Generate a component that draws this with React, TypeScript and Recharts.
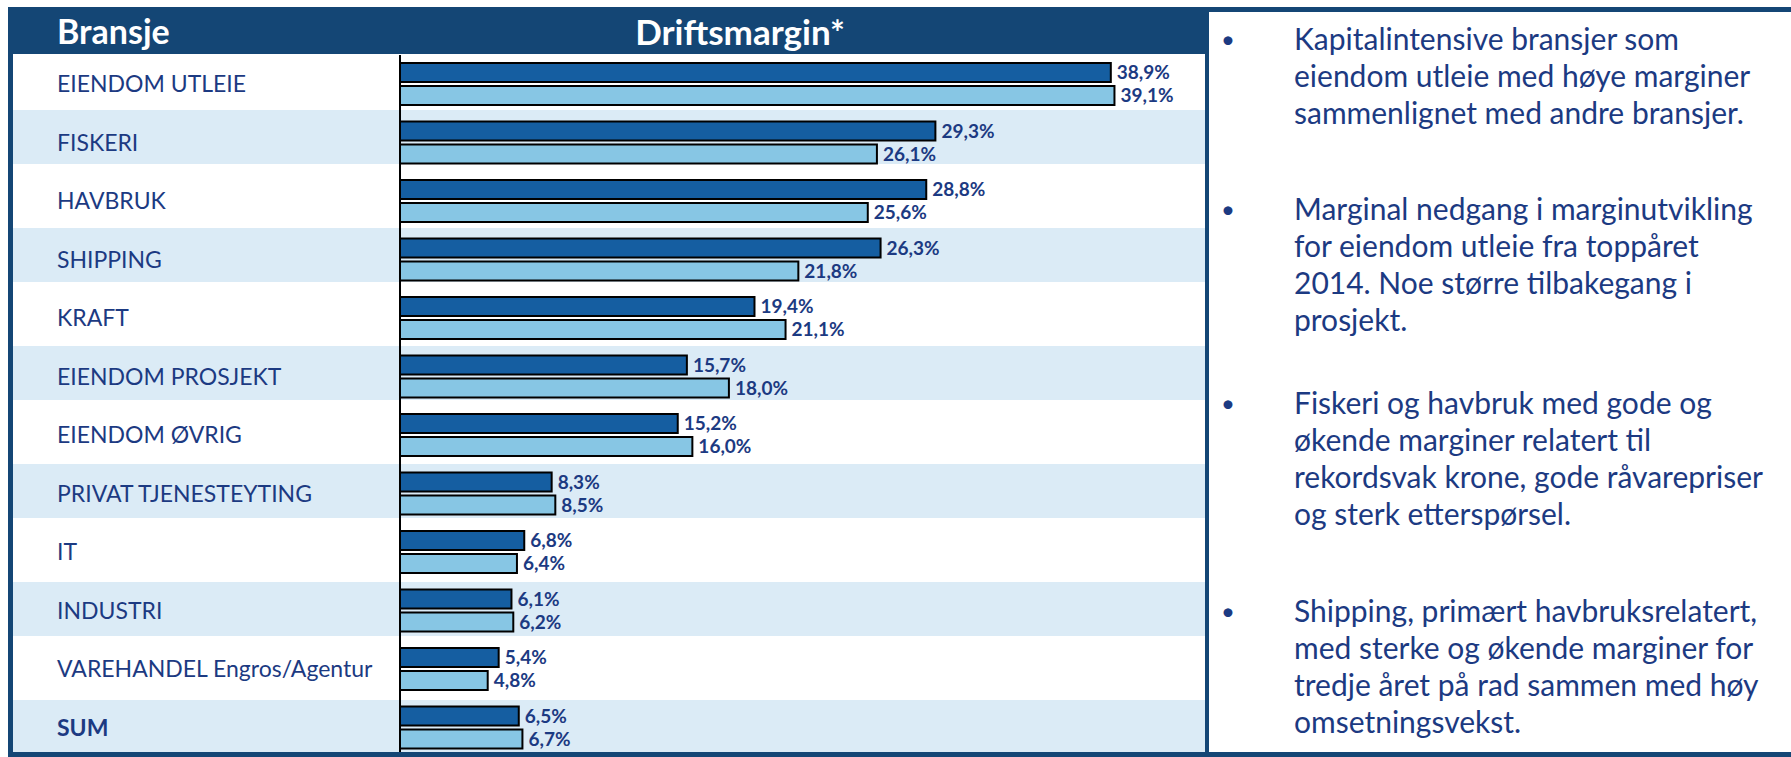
import { BarChart, Bar, XAxis, YAxis, LabelList } from 'recharts'

const CATEGORIES = [
  'EIENDOM UTLEIE',
  'FISKERI',
  'HAVBRUK',
  'SHIPPING',
  'KRAFT',
  'EIENDOM PROSJEKT',
  'EIENDOM ØVRIG',
  'PRIVAT TJENESTEYTING',
  'IT',
  'INDUSTRI',
  'VAREHANDEL Engros/Agentur',
  'SUM',
]
// dark (upper) bar and light (lower) bar per industry, driftsmargin in %
const MARGIN_DARK = [38.9, 29.3, 28.8, 26.3, 19.4, 15.7, 15.2, 8.3, 6.8, 6.1, 5.4, 6.5]
const MARGIN_LIGHT = [39.1, 26.1, 25.6, 21.8, 21.1, 18.0, 16.0, 8.5, 6.4, 6.2, 4.8, 6.7]

// commentary, one entry per bullet, broken as in the slide
const BULLETS = [
  ['Kapitalintensive bransjer som', 'eiendom utleie med høye marginer', 'sammenlignet med andre bransjer.'],
  ['Marginal nedgang i marginutvikling', 'for eiendom utleie fra toppåret', '2014. Noe større tilbakegang i', 'prosjekt.'],
  ['Fiskeri og havbruk med gode og', 'økende marginer relatert til', 'rekordsvak krone, gode råvarepriser', 'og sterk etterspørsel.'],
  ['Shipping, primært havbruksrelatert,', 'med sterke og økende marginer for', 'tredje året på rad sammen med høy', 'omsetningsvekst.'],
]
const PARA_GAP = [0, 59, 46, 60]

const NAVY = '#144675'
const TEXT = '#1c3a82'
const DARK_BAR = '#155ea1'
const LIGHT_BAR = '#87c6e4'
const STRIPE = '#dbebf6'
const FONT = 'Lato, "Open Sans", sans-serif'

const data = CATEGORIES.map((name, i) => ({
  name,
  dark: MARGIN_DARK[i],
  light: MARGIN_LIGHT[i],
}))

const fmt = (v: any) => `${Number(v).toFixed(1).replace('.', ',')}%`

function CategoryTick({ y, payload }: any) {
  const isSum = payload.value === 'SUM'
  return (
    <text
      x={44}
      y={y}
      dy="0.35em"
      fill={TEXT}
      fontSize={23}
      fontFamily={FONT}
      fontWeight={isSum ? 700 : 400}
    >
      {payload.value}
    </text>
  )
}

// table rows behind the chart: white / light blue alternating
function Stripes() {
  return (
    <div style={{ position: 'absolute', left: 13, top: 54, width: 1192, height: 698, display: 'flex', flexDirection: 'column' }}>
      {CATEGORIES.map((c, i) => {
        const h = i === 0 ? 56 : i % 2 ? 54 : 64
        const last = i === CATEGORIES.length - 1
        return (
          <div
            key={c}
            style={{
              height: last ? undefined : h,
              flex: last ? 1 : undefined,
              background: i % 2 ? STRIPE : '#fff',
            }}
          />
        )
      })}
    </div>
  )
}

export default function App() {
  return (
    <div style={{ position: 'fixed', left: 0, top: 0, width: 1791, height: 757, background: '#fff', fontFamily: FONT, overflow: 'hidden' }}>
      {/* header band */}
      <div style={{ position: 'absolute', left: 8, top: 7, width: 1198, height: 47, background: NAVY }} />
      <div style={{ position: 'absolute', left: 57, top: 7, height: 47, display: 'flex', alignItems: 'center', color: '#fff', fontWeight: 700, fontSize: 34 }}>
        Bransje
      </div>
      <div style={{ position: 'absolute', left: 540, width: 400, top: 7, height: 47, display: 'flex', alignItems: 'center', justifyContent: 'center', color: '#fff', fontWeight: 700, fontSize: 35 }}>
        Driftsmargin*
      </div>

      <Stripes />

      <div style={{ position: 'absolute', left: 13, top: 55 }}>
        <BarChart
          width={1192}
          height={702}
          data={data}
          layout="vertical"
          barGap={4}
          margin={{ top: 0, right: 1, bottom: 0, left: 0 }}
        >
          <XAxis type="number" domain={[0, 44]} hide />
          <YAxis
            type="category"
            dataKey="name"
            width={387}
            tick={<CategoryTick />}
            tickLine={false}
            axisLine={{ stroke: '#000', strokeWidth: 2 }}
            interval={0}
          />
          <Bar dataKey="dark" fill={DARK_BAR} stroke="#000" strokeWidth={2} barSize={19} isAnimationActive={false}>
            <LabelList dataKey="dark" position="right" offset={6} formatter={fmt} fill={TEXT} fontSize={19} fontWeight={700} fontFamily={FONT} />
          </Bar>
          <Bar dataKey="light" fill={LIGHT_BAR} stroke="#000" strokeWidth={2} barSize={19} isAnimationActive={false}>
            <LabelList dataKey="light" position="right" offset={6} formatter={fmt} fill={TEXT} fontSize={19} fontWeight={700} fontFamily={FONT} />
          </Bar>
        </BarChart>
      </div>

      {/* frame */}
      <div style={{ position: 'absolute', left: 8, top: 7, width: 5, height: 750, background: NAVY }} />
      <div style={{ position: 'absolute', left: 8, top: 752, width: 1783, height: 5, background: NAVY }} />

      {/* commentary panel */}
      <div
        style={{
          position: 'absolute',
          left: 1205,
          top: 7,
          width: 586,
          height: 745,
          boxSizing: 'border-box',
          background: '#fff',
          borderLeft: `4px solid ${NAVY}`,
          borderTop: `5px solid ${NAVY}`,
          padding: '8px 0 0 12px',
          color: TEXT,
          fontSize: 30,
          lineHeight: '37px',
          whiteSpace: 'nowrap',
        }}
      >
        {BULLETS.map((lines, i) => (
          <div key={lines[0]} style={{ display: 'flex', marginTop: PARA_GAP[i] }}>
            <span style={{ width: 73, flexShrink: 0, fontSize: 24 }}>•</span>
            <div>
              {lines.map((l) => (
                <div key={l}>{l}</div>
              ))}
            </div>
          </div>
        ))}
      </div>
    </div>
  )
}
